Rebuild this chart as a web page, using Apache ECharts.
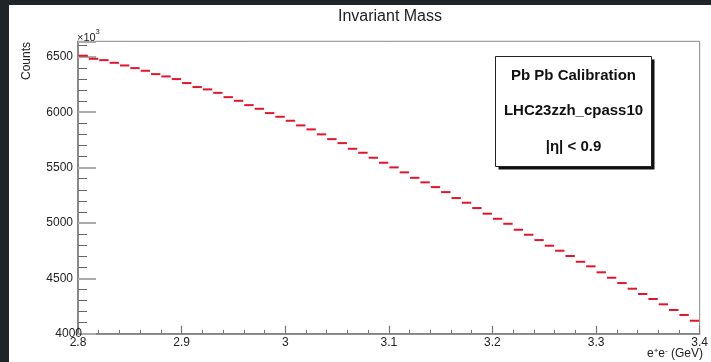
<!DOCTYPE html>
<html>
<head>
<meta charset="utf-8">
<script src="https://cdn.jsdelivr.net/npm/echarts@6/dist/echarts.min.js"></script>
<style>
html,body{margin:0;padding:0;background:#1e2427;width:711px;height:362px;overflow:hidden;}
#paper{position:absolute;left:9px;top:5px;width:702px;height:357px;background:#fff;}
#chart{position:absolute;left:0;top:0;width:711px;height:362px;}
</style>
</head>
<body>
<div id="paper"></div>
<div id="chart"></div>
<script>
// bin edges (GeV)
const binEdges = [2.80,2.81,2.82,2.83,2.84,2.85,2.86,2.87,2.88,2.89,
  2.90,2.91,2.92,2.93,2.94,2.95,2.96,2.97,2.98,2.99,
  3.00,3.01,3.02,3.03,3.04,3.05,3.06,3.07,3.08,3.09,
  3.10,3.11,3.12,3.13,3.14,3.15,3.16,3.17,3.18,3.19,
  3.20,3.21,3.22,3.23,3.24,3.25,3.26,3.27,3.28,3.29,
  3.30,3.31,3.32,3.33,3.34,3.35,3.36,3.37,3.38,3.39,3.40];
// counts (x10^3)
const counts = [6510,6482,6470,6446,6422,6398,6374,6344,6323,6299,
  6263,6227,6206,6175,6136,6103,6064,6031,5992,5959,
  5923,5881,5845,5800,5757,5721,5670,5634,5589,5544,
  5502,5457,5408,5367,5324,5279,5225,5183,5135,5084,
  5038,4993,4939,4894,4846,4795,4750,4702,4650,4609,
  4555,4506,4458,4407,4359,4314,4266,4215,4170,4118];
const xTicks = [2.8,2.9,3.0,3.1,3.2,3.3,3.4];
const yTicks = [4000,4500,5000,5500,6000,6500];
const legendLines = ['Pb Pb Calibration','LHC23zzh_cpass10','|\u03b7| < 0.9'];

const FONT = '"Liberation Sans", Arial, Helvetica, sans-serif';
const data = counts.map((c,i)=>[binEdges[i], binEdges[i+1], c]);

const chart = echarts.init(document.getElementById('chart'), null, {renderer:'canvas'});
const yMin = 4000, yMax = 6640;
chart.setOption({
  backgroundColor: 'transparent',
  animation: false,
  grid: {left: 78, right: 7.5, top: 41.3, bottom: 28.2, show: true, borderColor: '#888', borderWidth: 1, backgroundColor: 'transparent'},
  xAxis: {
    type: 'value', min: xTicks[0], max: xTicks[xTicks.length-1], interval: 0.1,
    axisLine: {show: true, onZero: false, lineStyle: {color: '#777', width: 1.5}},
    axisTick: {show: true, inside: true, length: 8, lineStyle: {color: '#777', width: 1.2}},
    minorTick: {show: true, splitNumber: 5, length: 4, lineStyle: {color: '#777', width: 1}},
    splitLine: {show: false},
    axisLabel: {margin: 3, color: '#222', fontFamily: FONT, fontSize: 12,
      formatter: v => { const t = xTicks.find(k => Math.abs(k - v) < 1e-6); return t === undefined ? '' : String(+t.toFixed(1)); }}
  },
  yAxis: [{
    type: 'value', min: yMin, max: yMax, interval: 500, z: 3,
    axisLine: {show: true, onZero: false, lineStyle: {color: '#777', width: 1.5}},
    axisTick: {show: true, inside: true, length: 18, lineStyle: {color: '#aaa', width: 2}},
    splitLine: {show: false},
    axisLabel: {margin: -4, color: '#222', fontFamily: FONT, fontSize: 12, align: 'right',
      formatter: v => { if (!yTicks.includes(Math.round(v)) || Math.abs(v - Math.round(v)) > 1e-6) return ''; return v === yTicks[0] ? String(v) : '{p|' + v + '}'; },
      rich: {p: {padding: [0, 9, 0, 0], fontFamily: FONT, fontSize: 12, color: '#222'}}}
  }, {
    type: 'value', min: yMin, max: yMax, interval: 100, position: 'left', offset: 0, z: 2,
    axisLine: {show: false},
    axisTick: {show: true, inside: true, length: 9, lineStyle: {color: '#666', width: 1}},
    splitLine: {show: false},
    axisLabel: {show: false}
  }],
  series: [{
    type: 'custom',
    xAxisIndex: 0, yAxisIndex: 0,
    data: data,
    z: 5,
    renderItem: function (params, api) {
      const p0 = api.coord([api.value(0), api.value(2)]);
      const p1 = api.coord([api.value(1), api.value(2)]);
      return {type: 'line', shape: {x1: p0[0] + 0.5, y1: p0[1], x2: p1[0] - 0.5, y2: p1[1]},
        style: {stroke: '#e3142c', lineWidth: 2}};
    }
  }],
  graphic: [
    {type: 'text', x: 390, y: 17, style: {text: 'Invariant Mass', font: '16px ' + FONT, fill: '#222', align: 'center', verticalAlign: 'middle'}},
    {type: 'text', x: 27, y: 42, rotation: Math.PI / 2, style: {text: 'Counts', font: '12px ' + FONT, fill: '#222', align: 'right', verticalAlign: 'middle'}},
    {type: 'text', x: 77, y: 36, style: {text: '{n|\u00d710}{s|3}', align: 'left', verticalAlign: 'middle',
      rich: {n: {font: '11px ' + FONT, fill: '#222', verticalAlign: 'bottom'}, s: {font: '7px ' + FONT, fill: '#222', padding: [0, 0, 8, 0]}}}},
    {type: 'text', x: 703, y: 354, style: {text: '{n|e}{s|+}{n|e}{s|-}{n| (GeV)}', align: 'right', verticalAlign: 'middle',
      rich: {n: {font: '12px ' + FONT, fill: '#222'}, s: {font: '8px ' + FONT, fill: '#222', padding: [0, 0, 7, 0]}}}},
    {type: 'rect', z: 10, shape: {x: 498.5, y: 59.5, width: 156, height: 110}, style: {fill: '#111'}},
    {type: 'rect', z: 11, shape: {x: 495.5, y: 56.5, width: 156, height: 110}, style: {fill: '#fff', stroke: '#222', lineWidth: 1}},
    {type: 'text', z: 12, x: 573.5, y: 75.7, style: {text: legendLines[0], font: 'bold 15px ' + FONT, fill: '#111', align: 'center', verticalAlign: 'middle'}},
    {type: 'text', z: 12, x: 573.5, y: 111, style: {text: legendLines[1], font: 'bold 15px ' + FONT, fill: '#111', align: 'center', verticalAlign: 'middle'}},
    {type: 'text', z: 12, x: 573.5, y: 147.3, style: {text: legendLines[2], font: 'bold 15px ' + FONT, fill: '#111', align: 'center', verticalAlign: 'middle'}}
  ]
});
</script>
</body>
</html>
